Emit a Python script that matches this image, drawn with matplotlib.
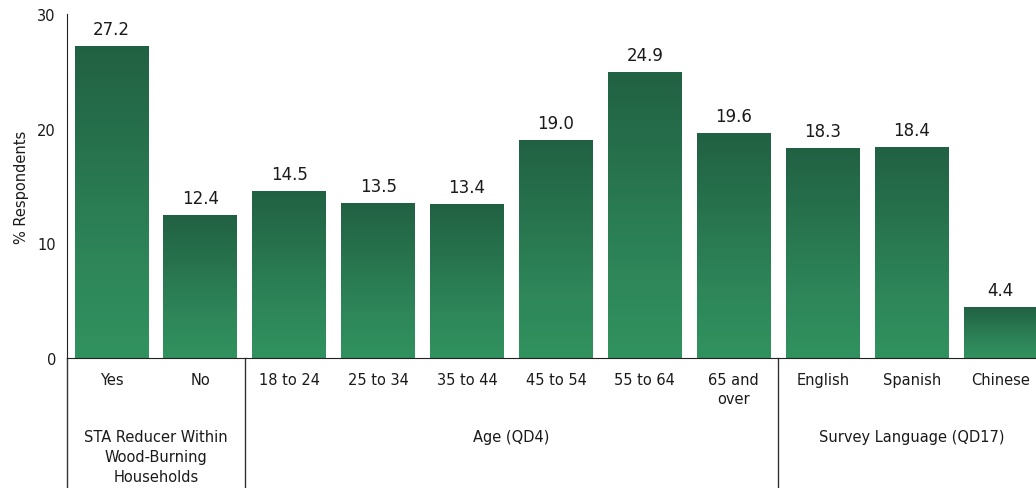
import numpy as np
import matplotlib
matplotlib.use("Agg")
import matplotlib.pyplot as plt
from matplotlib.colors import LinearSegmentedColormap
import matplotlib.transforms as mtransforms

# data
categories = ['Yes', 'No', '18 to 24', '25 to 34', '35 to 44', '45 to 54',
              '55 to 64', '65 and\nover', 'English', 'Spanish', 'Chinese']
values = [27.2, 12.4, 14.5, 13.5, 13.4, 19.0, 24.9, 19.6, 18.3, 18.4, 4.4]
groups = ['STA Reducer Within\nWood-Burning\nHouseholds', 'Age (QD4)', 'Survey Language (QD17)']
group_sizes = [2, 6, 3]

TEXT = '#1a1a1a'
plt.rcParams['font.family'] = ['DejaVu Sans']

fig = plt.figure(figsize=(10.36, 4.89), dpi=100)
ax = fig.add_axes([67 / 1036, 130 / 489, 978 / 1036, 344 / 489])

# dark at the top of each bar, lighter green further down
cmap = LinearSegmentedColormap.from_list('bar', [(0, '#31925f'), (0.3, '#2e8659'), (1, '#216143')])
grad = np.linspace(0, 1, 256).reshape(-1, 1)
width = 0.83

x = np.arange(len(categories))
bars = ax.bar(x, values, width=width, color='none', edgecolor='none')
for b, v in zip(bars, values):
    x0 = b.get_x()
    ax.imshow(grad, extent=[x0, x0 + width, 0, v], origin='lower', cmap=cmap,
              aspect='auto', interpolation='bilinear', zorder=2)
    ax.annotate(f'{v:.1f}', (b.get_x() + width / 2, v), xytext=(0, 6), textcoords='offset points',
                ha='center', va='bottom', fontsize=12, color=TEXT)

ax.set_xlim(-0.5, len(categories) - 0.5)
ax.set_ylim(0, 30)
ax.set_yticks([0, 10, 20, 30])
ax.set_xticks(x)
ax.set_xticklabels(categories, fontsize=10.5, color=TEXT, linespacing=1.35)
ax.tick_params(axis='both', length=0, labelsize=10.5, colors=TEXT)
ax.tick_params(axis='x', pad=10)
ax.tick_params(axis='y', pad=8)
ax.set_ylabel('% Respondents', fontsize=10.5, color=TEXT, labelpad=6)

for s in ['top', 'right']:
    ax.spines[s].set_visible(False)
ax.spines['left'].set_color('#222222')
ax.spines['bottom'].set_color('#222222')

# group separators and group labels below the axis
trans = mtransforms.blended_transform_factory(ax.transData, ax.transAxes)
start = 0
bounds = [-0.5]
for g, n in zip(groups, group_sizes):
    end = start + n
    bounds.append(end - 0.5)
    ax.text((start + end - 1) / 2, -0.205, g, transform=trans, ha='center', va='top',
            fontsize=10.5, color=TEXT, linespacing=1.45)
    start = end
for bx in bounds[:-1]:
    ax.plot([bx, bx], [0, -0.4], transform=trans, color='#333333', lw=1, clip_on=False)

fig.savefig('out.png', dpi=100)
